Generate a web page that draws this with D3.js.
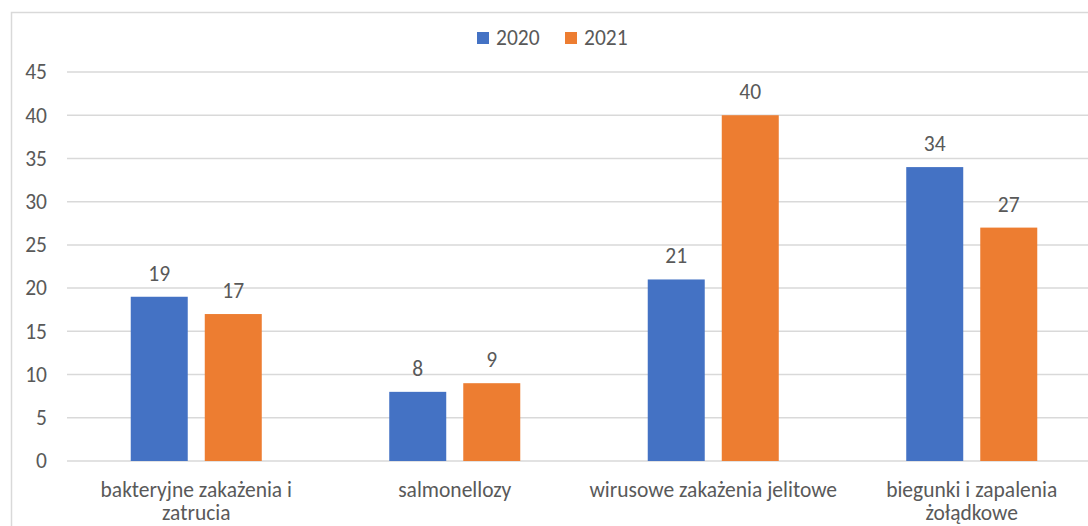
<!DOCTYPE html>
<html lang="pl">
<head>
<meta charset="utf-8">
<title>Zakażenia 2020-2021</title>
<script src="https://d3js.org/d3.v7.min.js"></script>
<style>
  body { margin: 0; background: #fff; }
  text { font-family: Calibri, Carlito, Lato, sans-serif; fill: #595959; }
</style>
</head>
<body>
<div id="chart"></div>
<script>
// dane
var categories = [
  ["bakteryjne zakażenia i", "zatrucia"],
  ["salmonellozy"],
  ["wirusowe zakażenia jelitowe"],
  ["biegunki i zapalenia", "żołądkowe"]
];
var seriesNames = ["2020", "2021"];
var values2020 = [19, 8, 21, 34];
var values2021 = [17, 9, 40, 27];
var yTicks = [0, 5, 10, 15, 20, 25, 30, 35, 40, 45];
var colors = ["#4472C4", "#ED7D31"];

var w = 1088, h = 526;
var svg = d3.select("#chart").append("svg")
  .attr("width", w).attr("height", h);

// ramka wykresu (prawa i dolna krawędź poza kadrem)
svg.append("rect")
  .attr("x", 11.5).attr("y", 12.5)
  .attr("width", w + 20).attr("height", h + 20)
  .attr("fill", "none").attr("stroke", "#d9d9d9").attr("stroke-width", 1.5);

var plotLeft = 67, plotRight = 1101, plotTop = 72, plotBottom = 461;

var x0 = d3.scaleBand()
  .domain(d3.range(categories.length))
  .range([plotLeft, plotRight]);
var x1 = d3.scaleBand()
  .domain(seriesNames)
  .range([0, x0.bandwidth()])
  .paddingInner(0.23)
  .paddingOuter(0.861);
var y = d3.scaleLinear().domain([0, 45]).range([plotBottom, plotTop]);

// siatka
svg.append("g").selectAll("line")
  .data(yTicks).enter().append("line")
  .attr("x1", plotLeft).attr("x2", plotRight)
  .attr("y1", function(d) { return y(d); })
  .attr("y2", function(d) { return y(d); })
  .attr("stroke", "#d9d9d9").attr("stroke-width", 1.5);

// etykiety osi Y
svg.append("g").selectAll("text")
  .data(yTicks).enter().append("text")
  .attr("x", 47)
  .attr("y", function(d) { return y(d); })
  .attr("dy", "0.34em")
  .attr("text-anchor", "end")
  .attr("font-size", 21.5)
  .text(function(d) { return d; });

var table = categories.map(function(c, i) {
  return { i: i, vals: [
    { s: seriesNames[0], v: values2020[i], c: colors[0] },
    { s: seriesNames[1], v: values2021[i], c: colors[1] }
  ] };
});

var groups = svg.selectAll("g.cat")
  .data(table).enter().append("g")
  .attr("class", "cat")
  .attr("transform", function(d) { return "translate(" + x0(d.i) + ",0)"; });

groups.selectAll("rect")
  .data(function(d) { return d.vals; }).enter().append("rect")
  .attr("x", function(d) { return x1(d.s); })
  .attr("y", function(d) { return y(d.v); })
  .attr("width", x1.bandwidth())
  .attr("height", function(d) { return plotBottom - y(d.v); })
  .attr("fill", function(d) { return d.c; });

groups.selectAll("text.val")
  .data(function(d) { return d.vals; }).enter().append("text")
  .attr("class", "val")
  .attr("x", function(d) { return x1(d.s) + x1.bandwidth() / 2; })
  .attr("y", function(d) { return y(d.v) - 16; })
  .attr("text-anchor", "middle")
  .attr("font-size", 21.5)
  .text(function(d) { return d.v; });

// etykiety kategorii
groups.append("text")
  .attr("x", x0.bandwidth() / 2)
  .attr("y", 497)
  .attr("text-anchor", "middle")
  .attr("font-size", 21.5)
  .selectAll("tspan")
  .data(function(d) { return categories[d.i]; }).enter().append("tspan")
  .attr("x", x0.bandwidth() / 2)
  .attr("dy", function(d, k) { return k === 0 ? 0 : 23; })
  .text(function(d) { return d; });

// legenda
var legendX = [477, 565];
var legend = svg.selectAll("g.legend")
  .data(seriesNames).enter().append("g")
  .attr("class", "legend")
  .attr("transform", function(d, i) { return "translate(" + legendX[i] + ",32)"; });
legend.append("rect")
  .attr("width", 12).attr("height", 12)
  .attr("fill", function(d, i) { return colors[i]; });
legend.append("text")
  .attr("x", 19).attr("y", 6)
  .attr("dy", "0.34em")
  .attr("font-size", 21.5)
  .text(function(d) { return d; });
</script>
</body>
</html>
